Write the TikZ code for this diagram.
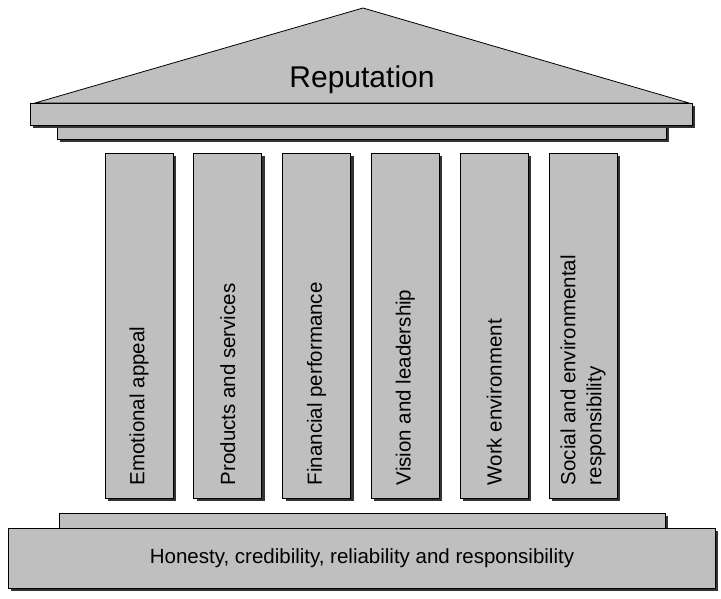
\documentclass[tikz,border=0pt]{standalone}
\usepackage{fontspec}
\setmainfont{Liberation Sans}
\usetikzlibrary{shadows}
\tikzset{
  stone/.style={draw=black, line width=0.8pt, fill=black!25,
    drop shadow={shadow xshift=3pt, shadow yshift=-3pt, fill=black!80, opacity=1}},
  roof/.style={draw=black, line width=0.8pt, fill=black!25},
  pillar/.style={stone, minimum width=68pt, minimum height=345pt, inner sep=0pt},
  pillartext/.style={rotate=90, anchor=west, align=left, inner sep=0pt,
    font=\fontsize{20.5}{26}\selectfont},
}
\begin{document}
\begin{tikzpicture}[x=1pt,y=-1pt]
    \useasboundingbox (0,0) rectangle (721,598);
    % roof
    \draw[roof] (35,103) -- (363,8) -- (689,103) -- cycle;
    \node[font=\fontsize{30}{36}\selectfont] (rep) at (362,80) {Reputation};
    \draw[stone] (57,125) rectangle (666,139);
    \draw[stone] (30,103) rectangle (692,125);
    % pillars
    \foreach \lbl [count=\i from 0] in {Emotional appeal, Products and services,
        Financial performance, Vision and leadership, Work environment,
        {Social and environmental\\responsibility}} {
        \node[pillar] (col\i) at ({139+88.8*\i},325.5) {};
        \node[pillartext] (lbl\i) at ([yshift=13pt]col\i.south) {\lbl};
    }
    % base
    \draw[stone] (59,513) rectangle (665,528);
    \draw[stone] (8,528) rectangle (715,588);
    \node[font=\fontsize{20.5}{24}\selectfont] (base) at (362,558)
        {Honesty, credibility, reliability and responsibility};
\end{tikzpicture}
\end{document}
